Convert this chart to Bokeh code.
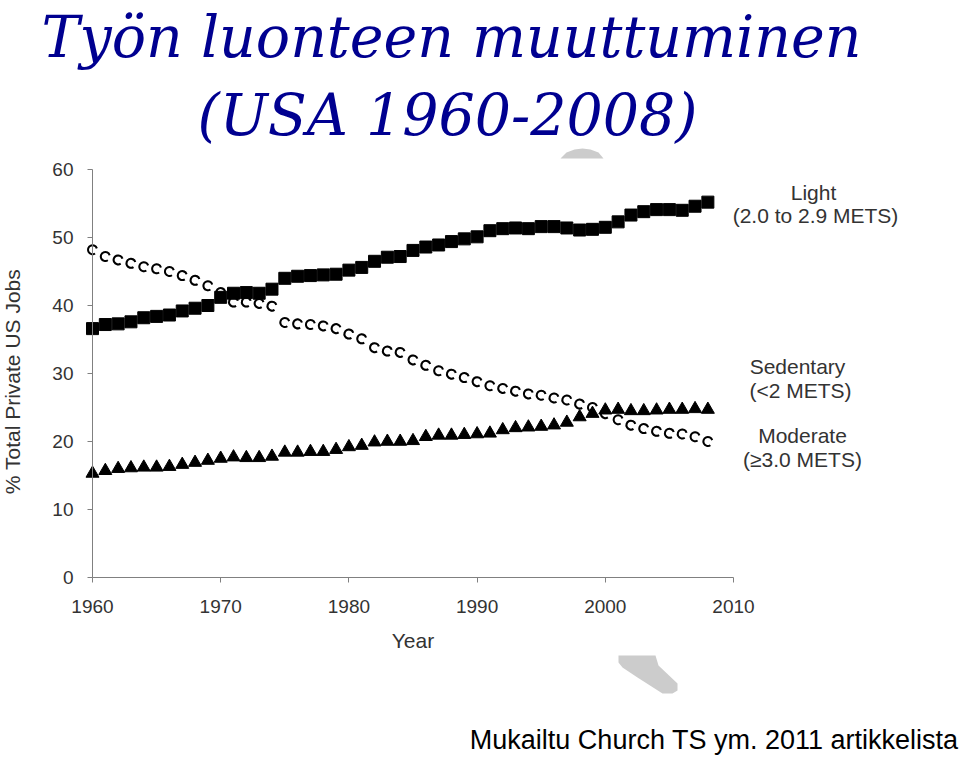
import math
from bokeh.plotting import figure
from bokeh.models import Range1d, Label, FixedTicker, PolyAnnotation, ColumnDataSource
from bokeh.embed import file_html
from bokeh.resources import INLINE

# ---------------- data ----------------
years = list(range(1960, 2009))
light = [36.6, 37.2, 37.3, 37.6, 38.2, 38.4, 38.6, 39.2, 39.6, 40.0,
         41.2, 41.8, 41.9, 41.8, 42.4, 44.0, 44.3, 44.4, 44.5, 44.6,
         45.2, 45.6, 46.5, 47.1, 47.2, 48.1, 48.6, 48.9, 49.4, 49.8,
         50.1, 51.0, 51.3, 51.4, 51.3, 51.6, 51.6, 51.4, 51.1, 51.2,
         51.5, 52.3, 53.3, 53.8, 54.1, 54.1, 54.0, 54.6, 55.2]
sedentary = [48.2, 47.2, 46.7, 46.2, 45.7, 45.4, 45.0, 44.4, 43.7, 42.9,
             41.9, 40.5, 40.5, 40.3, 39.9, 37.5, 37.3, 37.2, 37.0, 36.6,
             35.8, 35.1, 33.8, 33.3, 33.1, 32.0, 31.2, 30.4, 29.9, 29.4,
             28.8, 28.2, 27.8, 27.4, 27.0, 26.8, 26.4, 26.1, 25.5, 25.0,
             24.1, 23.2, 22.4, 21.9, 21.5, 21.2, 21.1, 20.7, 20.0]
moderate = [15.3, 15.7, 16.0, 16.1, 16.2, 16.2, 16.3, 16.6, 16.9, 17.2,
            17.5, 17.7, 17.6, 17.6, 17.8, 18.4, 18.4, 18.5, 18.5, 18.8,
            19.2, 19.4, 19.9, 20.0, 20.0, 20.1, 20.7, 20.9, 20.9, 21.0,
            21.1, 21.2, 21.7, 22.0, 22.1, 22.2, 22.4, 22.8, 23.6, 24.1,
            24.6, 24.7, 24.5, 24.5, 24.6, 24.7, 24.7, 24.8, 24.7]
x_ticks = [1960, 1970, 1980, 1990, 2000, 2010]
y_ticks = [0, 10, 20, 30, 40, 50, 60]
title_lines = ["Työn luonteen muuttuminen", "(USA 1960-2008)"]
series_labels = [("Light", "(2.0 to 2.9 METS)"),
                 ("Sedentary", "(<2 METS)"),
                 ("Moderate", "(≥3.0 METS)")]
source_note = "Mukailtu Church TS ym. 2011 artikkelista"

# ---------------- layout helpers ----------------
W, H = 960, 758
X0_PX, PX_PER_YEAR = 92, 12.82
Y0_PX, PX_PER_UNIT = 577, 6.8


def px2x(px):
    return 1960 + (px - X0_PX) / PX_PER_YEAR


def py2y(py):
    return (Y0_PX - py) / PX_PER_UNIT


def base_y(py, size):
    # compensate for how the alphabetic baseline is placed
    return py2y(py - 0.36 * size)


p = figure(width=W, height=H, output_backend="svg", toolbar_location=None,
           x_range=Range1d(px2x(0), px2x(W)), y_range=Range1d(py2y(H), py2y(0)),
           min_border=0, min_border_left=0, min_border_right=0,
           min_border_top=0, min_border_bottom=0)
p.outline_line_color = None
p.grid.visible = False
p.background_fill_color = "white"
p.border_fill_color = "white"

AX_COL = "#808080"
TXT_COL = "#333333"
for ax in (p.xaxis, p.yaxis):
    ax.axis_line_color = AX_COL
    ax.major_tick_line_color = AX_COL
    ax.minor_tick_line_color = None
    ax.major_tick_out = 5
    ax.major_tick_in = 0
    ax.major_label_text_font = "Liberation Sans"
    ax.major_label_text_font_size = "19px"
    ax.major_label_text_color = TXT_COL

p.xaxis.ticker = FixedTicker(ticks=x_ticks)
p.xaxis.bounds = (1960, 2010)
p.xaxis.fixed_location = 0
p.xaxis.major_label_standoff = 17
p.xaxis.axis_label = "Year"
p.xaxis.axis_label_text_font = "Liberation Sans"
p.xaxis.axis_label_text_font_size = "21px"
p.xaxis.axis_label_text_font_style = "normal"
p.xaxis.axis_label_text_color = TXT_COL
p.xaxis.axis_label_standoff = 13

p.yaxis.ticker = FixedTicker(ticks=y_ticks)
p.yaxis.bounds = (0, 60)
p.yaxis.fixed_location = 1960
p.yaxis.major_label_standoff = 14

# decorative grey shapes of the slide background
p.add_layout(PolyAnnotation(
    xs=[px2x(v) for v in [618, 655, 658, 677, 677, 672, 662, 637, 622, 618]],
    ys=[py2y(v) for v in [655, 655, 665, 683, 690, 693, 693, 677, 667, 662]],
    fill_color="#cccccc", fill_alpha=1, line_color=None))
p.add_layout(PolyAnnotation(
    xs=[px2x(v) for v in [560, 566, 574, 582, 590, 598, 603]],
    ys=[py2y(v) for v in [158, 152, 149, 148, 149, 152, 158]],
    fill_color="#cccccc", fill_alpha=1, line_color=None))

src = ColumnDataSource(dict(year=years, light=light, sed=sedentary, mod=moderate))

p.arc(x="year", y="sed", source=src, radius=4.5, radius_units="screen",
      start_angle=0.3, end_angle=5.3, line_color="#bbbbbb", line_width=2)
p.arc(x="year", y="sed", source=src, radius=4.5, radius_units="screen",
      start_angle=0.3, end_angle=5.3, line_color="black", line_width=2)
p.scatter(x="year", y="mod", source=src, marker="triangle", size=13,
          fill_color="black", line_color="black")
p.scatter(x="year", y="light", source=src, marker="square", size=12,
          fill_color="black", line_color="black")

# title
TITLE_COL = "#000090"
TITLE_SIZE = 57
for txt, cx, base in [(title_lines[0], 451, 57), (title_lines[1], 447, 135)]:
    p.add_layout(Label(x=px2x(cx), y=base_y(base, TITLE_SIZE), text=txt,
                       text_font="DejaVu Serif", text_font_style="italic",
                       text_font_size=f"{TITLE_SIZE}px", text_color=TITLE_COL,
                       text_align="center", text_baseline="alphabetic"))

# y axis label
p.add_layout(Label(x=px2x(12), y=py2y(381), text="% Total Private US Jobs",
                   angle=math.pi / 2, text_font="Liberation Sans",
                   text_font_size="21px", text_color=TXT_COL,
                   text_align="center", text_baseline="middle"))

# series labels
label_pos = [((813, 200), (815, 223)),
             ((797, 374), (800, 398)),
             ((802, 443), (802, 467))]
for (l1, l2), ((x1, b1), (x2, b2)) in zip(series_labels, label_pos):
    for txt, cx, b in [(l1, x1, b1), (l2, x2, b2)]:
        p.add_layout(Label(x=px2x(cx), y=base_y(b, 21), text=txt,
                           text_font="Liberation Sans", text_font_size="21px",
                           text_color=TXT_COL, text_align="center",
                           text_baseline="alphabetic"))

# source note
p.add_layout(Label(x=px2x(958), y=base_y(749, 27), text=source_note,
                   text_font="Liberation Sans", text_font_size="27px",
                   text_color="black", text_align="right",
                   text_baseline="alphabetic"))

open("out.html", "w").write(file_html(p, INLINE))
